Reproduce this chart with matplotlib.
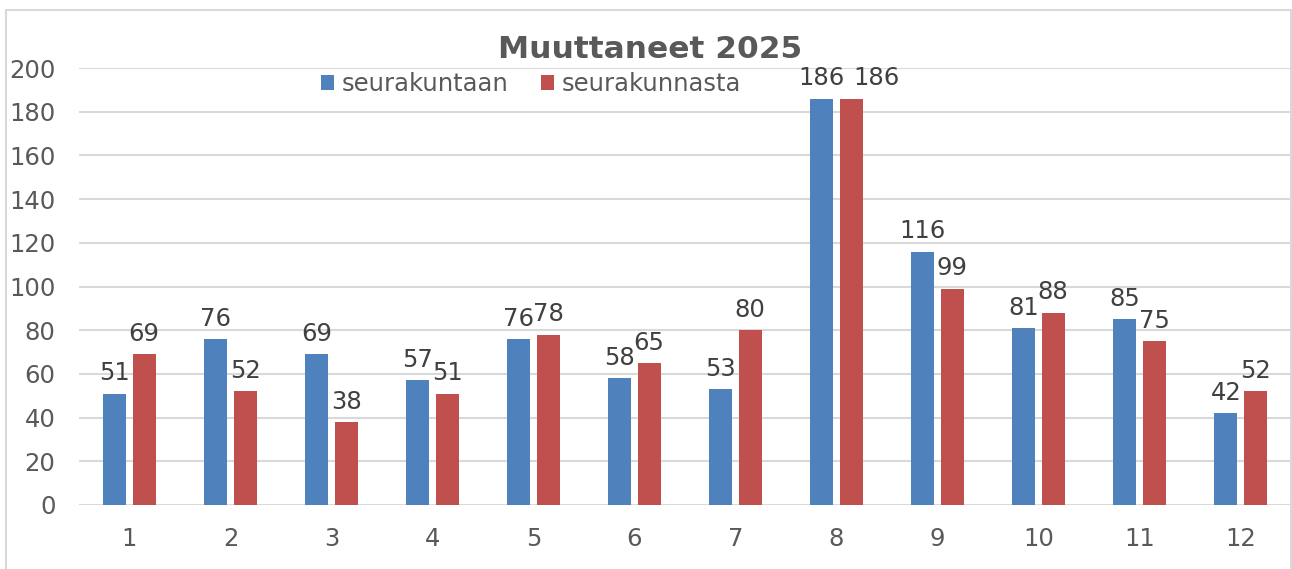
import matplotlib.pyplot as plt
import numpy as np
from matplotlib.patches import Rectangle

months = [str(i) for i in range(1, 13)]
to_parish = [51, 76, 69, 57, 76, 58, 53, 186, 116, 81, 85, 42]
from_parish = [69, 52, 38, 51, 78, 65, 80, 186, 99, 88, 75, 52]
series_names = ["seurakuntaan", "seurakunnasta"]
title = "Muuttaneet 2025"

BLUE = "#4F81BD"
RED = "#C0504D"
TEXT = "#595959"
GRID = "#D9D9D9"
FS = 17.5

fig = plt.figure(figsize=(12.92, 5.69), dpi=100)
ax = fig.add_axes([79 / 1292, 64 / 569, 1212 / 1292, 437 / 569])

x = np.arange(1, len(months) + 1)
w = 0.23
off = 0.145
b1 = ax.bar(x - off, to_parish, w, color=BLUE, label=series_names[0], zorder=3)
b2 = ax.bar(x + off, from_parish, w, color=RED, label=series_names[1], zorder=3)


def label(r):
    return ax.annotate(f"{r.get_height():.0f}", (r.get_x() + r.get_width() / 2, r.get_height()),
                       xytext=(0, 6), textcoords="offset points", ha="center", va="bottom",
                       fontsize=FS, color="#404040")


pairs = [(label(r1), label(r2)) for r1, r2 in zip(b1, b2)]

ax.set_xlim(0.5, 12.5)
ax.set_ylim(0, 200)
ax.set_yticks(range(0, 201, 20))
ax.set_xticks(x)
ax.set_xticklabels(months)
ax.tick_params(length=0, labelsize=FS, labelcolor=TEXT, pad=16)
ax.tick_params(axis="y", pad=17)
ax.grid(axis="y", color=GRID, lw=1.5, zorder=0)
for s in ax.spines.values():
    s.set_visible(False)

fig.text(650 / 1292, 1 - 50 / 569, title, ha="center", va="center",
         fontsize=22.5, fontweight="bold", color=TEXT)
fig.legend(loc="center", bbox_to_anchor=(531 / 1292, 1 - 84 / 569), ncol=2,
           frameon=False, fontsize=FS, labelcolor=TEXT, handlelength=0.55,
           handleheight=0.55, handletextpad=0.3, columnspacing=1.35)

fig.patches.append(Rectangle((6 / 1292, -0.02), 1285 / 1292, 1.02 - 10 / 569,
                             transform=fig.transFigure, fill=False,
                             edgecolor=GRID, lw=1.5))

# push the right label aside only where the two labels of a month clearly collide
fig.canvas.draw()
renderer = fig.canvas.get_renderer()
for t1, t2 in pairs:
    e1 = t1.get_window_extent(renderer)
    e2 = t2.get_window_extent(renderer)
    if e1.overlaps(e2) and e1.x1 - e2.x0 > 8:
        shift = (e1.x1 - e2.x0 + 8) * 72 / fig.dpi
        t2.set_position((shift, 6))

fig.savefig("out.png", dpi=100)
